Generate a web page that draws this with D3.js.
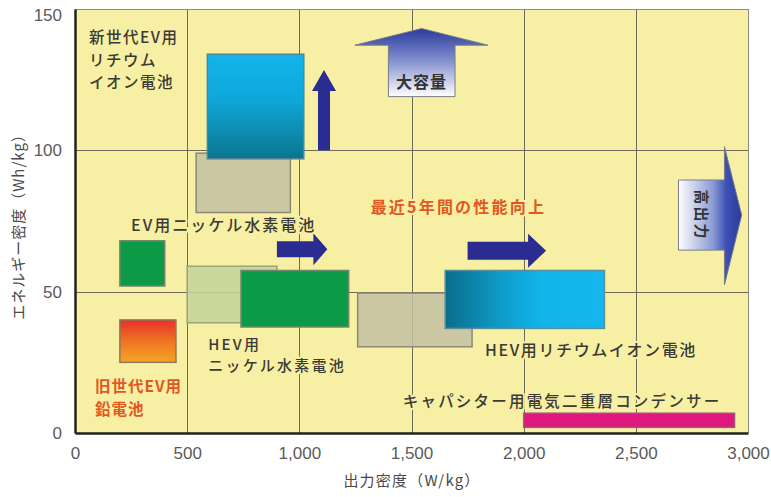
<!DOCTYPE html>
<html>
<head>
<meta charset="utf-8">
<script src="https://cdn.jsdelivr.net/npm/d3@7"></script>
<style>
  body { margin: 0; background: #ffffff; }
  svg { display: block; }
</style>
</head>
<body>
<svg id="chart" width="771" height="497"></svg>
<script>
// Battery / capacitor regions: power density range (W/kg) and energy density range (Wh/kg)
const batteryNames = [
  "EV用ニッケル水素電池（現行）",
  "新世代EV用リチウムイオン電池",
  "旧世代EV用鉛電池",
  "EV用ニッケル水素電池（旧）",
  "HEV用ニッケル水素電池（旧）",
  "HEV用ニッケル水素電池（現行）",
  "HEV用リチウムイオン電池（旧）",
  "HEV用リチウムイオン電池（現行）",
  "キャパシター用電気二重層コンデンサー"
];
const powerLow   = [540, 590, 200, 200, 500, 740, 1260, 1650, 2000];
const powerHigh  = [960, 1020, 450, 400, 900, 1220, 1770, 2360, 2940];
const energyLow  = [78, 97, 25, 52, 39, 37.5, 30.5, 37, 2];
const energyHigh = [99, 134, 40, 68, 59, 57.5, 49.5, 57.5, 7];

const xTickValues = [0, 500, 1000, 1500, 2000, 2500, 3000];
const yTickValues = [0, 50, 100, 150];

const svg = d3.select("#chart");
const plot = { left: 75, right: 748, top: 9, bottom: 433 };
const plotBg = "#f7f0a4";

const x = d3.scaleLinear().domain([0, 3000]).range([plot.left, plot.right]);
const y = d3.scaleLinear().domain([0, 150]).range([plot.bottom, plot.top]);

const jp = "'Noto Sans CJK JP', 'Noto Sans', sans-serif";
const num = "'Liberation Sans', Arial, sans-serif";

// ---------- gradients ----------
const defs = svg.append("defs");
function linGrad(id, x1, y1, x2, y2, stops) {
  const g = defs.append("linearGradient").attr("id", id)
    .attr("x1", x1).attr("y1", y1).attr("x2", x2).attr("y2", y2);
  stops.forEach(s => g.append("stop").attr("offset", s[0]).attr("stop-color", s[1]));
}
linGrad("liEV", 0, 0, 0, 1, [[0, "#12b5ec"], [0.45, "#0fa6d8"], [1, "#0b7590"]]);
linGrad("liHEV", 0, 0, 1, 0, [[0, "#0a6c8c"], [0.35, "#0e9cc8"], [0.6, "#12b4ea"], [1, "#14b8ee"]]);
linGrad("lead", 0, 0, 0, 1, [[0, "#e6302a"], [0.5, "#ef7424"], [1, "#f6a524"]]);
linGrad("capacity", 0, 0, 0, 1, [[0, "#2a3a9c"], [0.45, "#7d8ccc"], [1, "#ffffff"]]);
linGrad("output", 0, 0, 1, 0, [[0, "#ffffff"], [0.55, "#8a9ad4"], [0.75, "#3d52b4"], [1, "#2a3a9c"]]);

// ---------- plot background & grid ----------
svg.append("rect")
  .attr("x", plot.left).attr("y", plot.top)
  .attr("width", plot.right - plot.left).attr("height", plot.bottom - plot.top)
  .attr("fill", plotBg);

const grid = svg.append("g").attr("stroke", "#6e6b58").attr("stroke-width", 1);
grid.selectAll(".gx").data(xTickValues.slice(1, -1)).join("line")
  .attr("x1", d => Math.round(x(d)) + 0.5).attr("x2", d => Math.round(x(d)) + 0.5)
  .attr("y1", plot.top).attr("y2", plot.bottom);
grid.selectAll(".gy").data(yTickValues.slice(1, -1)).join("line")
  .attr("y1", d => Math.round(y(d)) + 0.5).attr("y2", d => Math.round(y(d)) + 0.5)
  .attr("x1", plot.left).attr("x2", plot.right);

// ---------- region boxes ----------
const fillFor = {
  "EV用ニッケル水素電池（現行）": { fill: "#c4bfa3", opacity: 0.85, stroke: "#8c8876" },
  "新世代EV用リチウムイオン電池": { fill: "url(#liEV)", opacity: 1, stroke: "#4f8796" },
  "旧世代EV用鉛電池": { fill: "url(#lead)", opacity: 1, stroke: "#8c7a5a" },
  "EV用ニッケル水素電池（旧）": { fill: "#0c9a46", opacity: 1, stroke: "#6f8a6c" },
  "HEV用ニッケル水素電池（旧）": { fill: "#c4d29a", opacity: 0.85, stroke: "#9aa47a" },
  "HEV用ニッケル水素電池（現行）": { fill: "#0c9a46", opacity: 1, stroke: "#6f8a6c" },
  "HEV用リチウムイオン電池（旧）": { fill: "#c4bfa3", opacity: 0.85, stroke: "#8c8876" },
  "HEV用リチウムイオン電池（現行）": { fill: "url(#liHEV)", opacity: 1, stroke: "#5a8e9a" },
  "キャパシター用電気二重層コンデンサー": { fill: "#e0187e", opacity: 1, stroke: "#9a5a7a" }
};

const regions = batteryNames.map((name, i) => ({
  name, x0: powerLow[i], x1: powerHigh[i], y0: energyLow[i], y1: energyHigh[i]
}));

svg.append("g").selectAll("rect").data(regions).join("rect")
  .attr("x", d => x(d.x0))
  .attr("y", d => y(d.y1))
  .attr("width", d => x(d.x1) - x(d.x0))
  .attr("height", d => y(d.y0) - y(d.y1))
  .attr("fill", d => fillFor[d.name].fill)
  .attr("fill-opacity", d => fillFor[d.name].opacity)
  .attr("stroke", d => fillFor[d.name].stroke)
  .attr("stroke-width", 1.5);

// ---------- trend arrows (navy) ----------
const navy = "#2b2c92";
function arrow(g, fromX, fromY, toX, toY, shaft, head, headLen) {
  const x0 = x(fromX), y0 = y(fromY), x1 = x(toX), y1 = y(toY);
  const len = Math.hypot(x1 - x0, y1 - y0);
  const ang = Math.atan2(y1 - y0, x1 - x0) * 180 / Math.PI;
  const s = shaft / 2, h = head / 2, b = len - headLen;
  g.append("path")
    .attr("d", `M0,${-s}L${b},${-s}L${b},${-h}L${len},0L${b},${h}L${b},${s}L0,${s}Z`)
    .attr("transform", `translate(${x0},${y0}) rotate(${ang})`)
    .attr("fill", navy);
}
const arrows = svg.append("g");
arrow(arrows, 1110, 100, 1110, 128.4, 12, 24, 21);
arrow(arrows, 900, 65, 1125, 65, 16, 32, 14);
arrow(arrows, 1750, 64.5, 2100, 64.5, 18, 34, 18);

// ---------- "大容量" block arrow ----------
const capTip = [1545, 143.1], capWing = 137.2, capBottom = 119;
const capWingL = 1248, capWingR = 1840, capBodyL = 1397, capBodyR = 1694;
svg.append("path")
  .attr("d", `M${x(capTip[0])},${y(capTip[1])}
              L${x(capWingR)},${y(capWing)} L${x(capBodyR)},${y(capWing)}
              L${x(capBodyR)},${y(capBottom)} L${x(capBodyL)},${y(capBottom)}
              L${x(capBodyL)},${y(capWing)} L${x(capWingL)},${y(capWing)}Z`)
  .attr("fill", "url(#capacity)")
  .attr("stroke", "#7a7a86").attr("stroke-width", 1);
svg.append("text")
  .attr("x", x(capTip[0])).attr("y", y(122.2))
  .attr("text-anchor", "middle")
  .attr("font-family", jp).attr("font-size", 16).attr("font-weight", 700)
  .attr("fill", "#333").attr("letter-spacing", 1)
  .text("大容量");

// ---------- "高出力" block arrow ----------
const outBodyL = 2690, outBodyR = 2895, outBodyTop = 89.5, outBodyBot = 64.7;
const outHeadTop = 101.3, outHeadBot = 52.4, outTip = [2972, 77.1];
svg.append("path")
  .attr("d", `M${x(outBodyL)},${y(outBodyTop)} L${x(outBodyR)},${y(outBodyTop)}
              L${x(outBodyR)},${y(outHeadTop)} L${x(outTip[0])},${y(outTip[1])}
              L${x(outBodyR)},${y(outHeadBot)} L${x(outBodyR)},${y(outBodyBot)}
              L${x(outBodyL)},${y(outBodyBot)}Z`)
  .attr("fill", "url(#output)")
  .attr("stroke", "#7a7a86").attr("stroke-width", 1);
svg.append("text")
  .attr("transform", `translate(${x(2790)},${y(77.1)}) rotate(90)`)
  .attr("text-anchor", "middle").attr("dy", "0.35em")
  .attr("font-family", jp).attr("font-size", 15).attr("font-weight", 700)
  .attr("fill", "#333").attr("letter-spacing", 2)
  .text("高出力");

// ---------- annotations ----------
const dark = "#3b3a36", orange = "#e2581f";
const notes = [
  { lines: ["新世代EV用", "リチウム", "イオン電池"], px: 62, py: [138, 129.8, 122], color: dark, size: 15.5, ls: 1.5, weight: 500 },
  { lines: ["EV用ニッケル水素電池"], px: 250, py: [71.5], color: dark, size: 16, ls: 2, weight: 500 },
  { lines: ["HEV用", "ニッケル水素電池"], px: 594, py: [29.4, 21.8], color: dark, size: 15, ls: 2.2, weight: 500 },
  { lines: ["旧世代EV用", "鉛電池"], px: 89, py: [14.6, 6.4], color: orange, size: 15.5, ls: 1, weight: 700 },
  { lines: ["最近5年間の性能向上"], px: 1318, py: [77.7], color: orange, size: 16, ls: 2.2, weight: 700 },
  { lines: ["HEV用リチウムイオン電池"], px: 1828, py: [27.2], color: dark, size: 16, ls: 1.6, weight: 500 },
  { lines: ["キャパシター用電気二重層コンデンサー"], px: 1461, py: [9.3], color: dark, size: 15.5, ls: 2.2, weight: 500 }
];
const noteG = svg.append("g");
notes.forEach(n => {
  n.lines.forEach((line, i) => {
    noteG.append("text")
      .attr("x", x(n.px)).attr("y", y(n.py[i]))
      .attr("font-family", jp).attr("font-size", n.size).attr("font-weight", n.weight)
      .attr("letter-spacing", n.ls)
      .attr("fill", n.color)
      .attr("stroke", plotBg).attr("stroke-width", 4).attr("stroke-linejoin", "round")
      .attr("paint-order", "stroke")
      .text(line);
  });
});

// ---------- frame & axes ----------
svg.append("line").attr("x1", plot.left).attr("x2", plot.right)
  .attr("y1", plot.top + 0.5).attr("y2", plot.top + 0.5)
  .attr("stroke", "#8a8a80").attr("stroke-width", 1);
svg.append("line").attr("x1", plot.right + 0.5).attr("x2", plot.right + 0.5)
  .attr("y1", plot.top).attr("y2", plot.bottom)
  .attr("stroke", "#8a8a80").attr("stroke-width", 1);

const xAxis = d3.axisBottom(x).tickValues(xTickValues).tickSize(0).tickPadding(14)
  .tickFormat(d3.format(","));
const yAxis = d3.axisLeft(y).tickValues(yTickValues).tickSize(0).tickPadding(13);

const gx = svg.append("g").attr("transform", `translate(0,${plot.bottom})`).call(xAxis);
const gy = svg.append("g").attr("transform", `translate(${plot.left},0)`).call(yAxis);
[gx, gy].forEach(g => {
  g.select(".domain").attr("stroke", "#222").attr("stroke-width", 2.5);
  g.selectAll("text").attr("font-family", num).attr("font-size", 17)
    .attr("fill", "#5a5a5a");
});
gy.selectAll(".tick text").filter(d => d === 150).attr("dy", "0.7em");

// axis titles
svg.append("text")
  .attr("x", 412).attr("y", 486)
  .attr("text-anchor", "middle")
  .attr("font-family", jp).attr("font-size", 15).attr("letter-spacing", 1.2)
  .attr("fill", "#4a4a4a")
  .text("出力密度（W/kg）");
svg.append("text")
  .attr("transform", `translate(24,223) rotate(-90)`)
  .attr("text-anchor", "middle")
  .attr("font-family", jp).attr("font-size", 15).attr("letter-spacing", 1)
  .attr("fill", "#4a4a4a")
  .text("エネルギー密度（Wh/kg）");
</script>
</body>
</html>
